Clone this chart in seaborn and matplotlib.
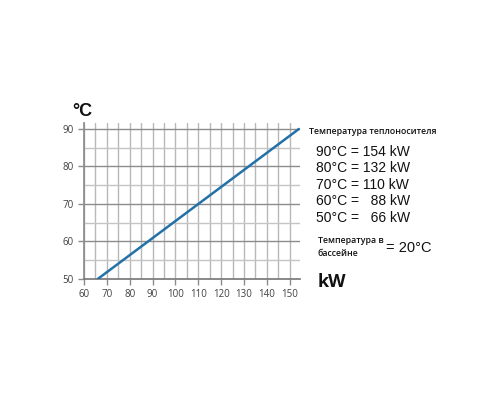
import matplotlib
matplotlib.use("Agg")
import matplotlib.pyplot as plt
import numpy as np
import pandas as pd
import seaborn as sns

# data
power_kw = [66, 88, 110, 132, 154]
supply_temp = [50, 60, 70, 80, 90]
legend_lines = [
    "90°C = 154 kW",
    "80°C = 132 kW",
    "70°C = 110 kW",
    "60°C =   88 kW",
    "50°C =   66 kW",
]
x_ticks = list(range(60, 151, 10))
y_ticks = list(range(50, 91, 10))

sns.set_theme(style="white")
plt.rcParams["font.family"] = ["Open Sans", "DejaVu Sans"]

df = pd.DataFrame({"kW": power_kw, "temp": supply_temp})

fig = plt.figure(figsize=(5, 4), dpi=100)
ax = fig.add_axes([0.168, 0.3025, 0.432, 0.39])

# grid: every 5 units, majors (every 10) darker on y
for xv in np.arange(60, 155, 5):
    ax.axvline(xv, color="#b8b8b8", lw=1.0, zorder=0)
for yv in np.arange(55, 91, 5):
    col = "#8c8c8c" if yv % 10 == 0 else "#c4c4c4"
    ax.axhline(yv, color=col, lw=1.0, zorder=0)

sns.lineplot(data=df, x="kW", y="temp", color="#2271a8", lw=1.8, ax=ax, zorder=3)

ax.set_xlim(60, 154.5)
ax.set_ylim(50, 91.6)
ax.set_xticks(x_ticks)
ax.set_yticks(y_ticks)
ax.set_xlabel("")
ax.set_ylabel("")
for s in ["top", "right"]:
    ax.spines[s].set_visible(False)
ax.spines["left"].set_color("#8c8c8c")
ax.spines["bottom"].set_color("#7a7a7a")
ax.tick_params(axis="both", labelsize=7, colors="#8c8c8c", labelcolor="#404040",
               length=4, width=1, left=True, bottom=True)

fig.text(0.164, 0.722, "°C", fontsize=13, fontweight="bold", ha="center", va="center",
         color="#111111", family=["Liberation Sans"])
fig.text(0.636, 0.295, "kW", fontsize=13, fontweight="bold", ha="left", va="center",
         color="#111111", family=["Open Sans"])

fig.text(0.618, 0.672, "Температура теплоносителя", fontsize=6.3, fontweight="semibold",
         ha="left", va="center", color="#111111")
y0 = 0.621
for i, txt in enumerate(legend_lines):
    fig.text(0.632, y0 - i * 0.0415, txt, fontsize=10, ha="left", va="center",
             color="#111111", family=["Liberation Sans"])

fig.text(0.636, 0.383, "Температура в\nбассейне", fontsize=6.3, fontweight="semibold",
         ha="left", va="center", color="#111111", linespacing=1.6)
fig.text(0.772, 0.381, "= 20°C", fontsize=10.5, ha="left", va="center",
         color="#111111", family=["Liberation Sans"])

fig.savefig("out.png", dpi=100)
